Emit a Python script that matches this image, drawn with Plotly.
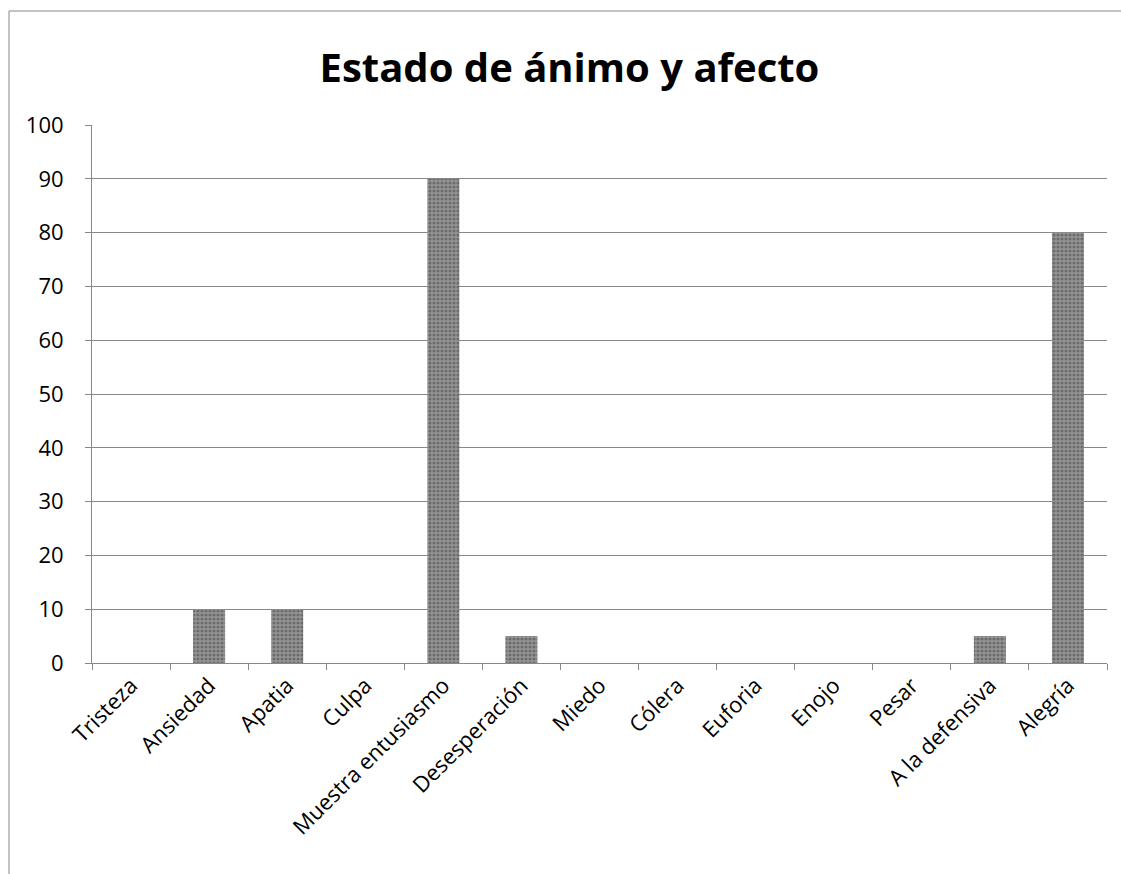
import plotly.graph_objects as go

categories = ["Tristeza", "Ansiedad", "Apatia", "Culpa", "Muestra entusiasmo",
              "Desesperación", "Miedo", "Cólera", "Euforia", "Enojo", "Pesar",
              "A la defensiva", "Alegría"]
values = [0, 10, 10, 0, 90, 5, 0, 0, 0, 0, 0, 5, 80]
y_ticks = list(range(0, 101, 10))

W, H = 1121, 874
L, R, T, B = 92, 14, 125, 211
pw, ph = W - L - R, H - T - B

fig = go.Figure(go.Bar(
    x=categories, y=values,
    marker=dict(color="#7f7f7f", line=dict(width=0),
                pattern=dict(shape=".", fgcolor="#444444", bgcolor="#959595", size=4, solidity=0.5)),
))

fig.update_layout(
    width=W, height=H,
    margin=dict(l=L, r=R, t=T, b=B),
    paper_bgcolor="white", plot_bgcolor="white",
    font=dict(family="Open Sans, Liberation Sans, sans-serif", color="black"),
    title=dict(text="<b>Estado de ánimo y afecto</b>", x=0.508, xanchor="center",
               y=1 - 68 / H, yanchor="middle", font=dict(size=40, color="black")),
    bargap=0.59,
    showlegend=False,
    xaxis=dict(tickangle=-45, tickfont=dict(size=22), ticks="outside", tickson="boundaries",
               ticklen=6, tickcolor="#888", showline=True, linecolor="#888", linewidth=1,
               showgrid=False),
    yaxis=dict(range=[0, 100], tickvals=y_ticks, tickfont=dict(size=22), ticks="outside",
               ticklen=6, tickcolor="#888", showgrid=True, gridcolor="#888", gridwidth=1,
               showline=True, linecolor="#888", linewidth=1, zeroline=False, ticklabelstandoff=17),
    shapes=[
        dict(type="line", xref="paper", yref="paper",
             x0=(9 - L) / pw, x1=(9 - L) / pw, y0=(H - B - 11) / ph, y1=(H - B - H) / ph,
             line=dict(color="#888", width=1)),
        dict(type="line", xref="paper", yref="paper",
             x0=(9 - L) / pw, x1=(W - L) / pw, y0=(H - B - 11) / ph, y1=(H - B - 11) / ph,
             line=dict(color="#888", width=1)),
    ],
)

fig.write_html("out.html", config={"displayModeBar": False},
               post_script="document.body.style.margin='0px';")
